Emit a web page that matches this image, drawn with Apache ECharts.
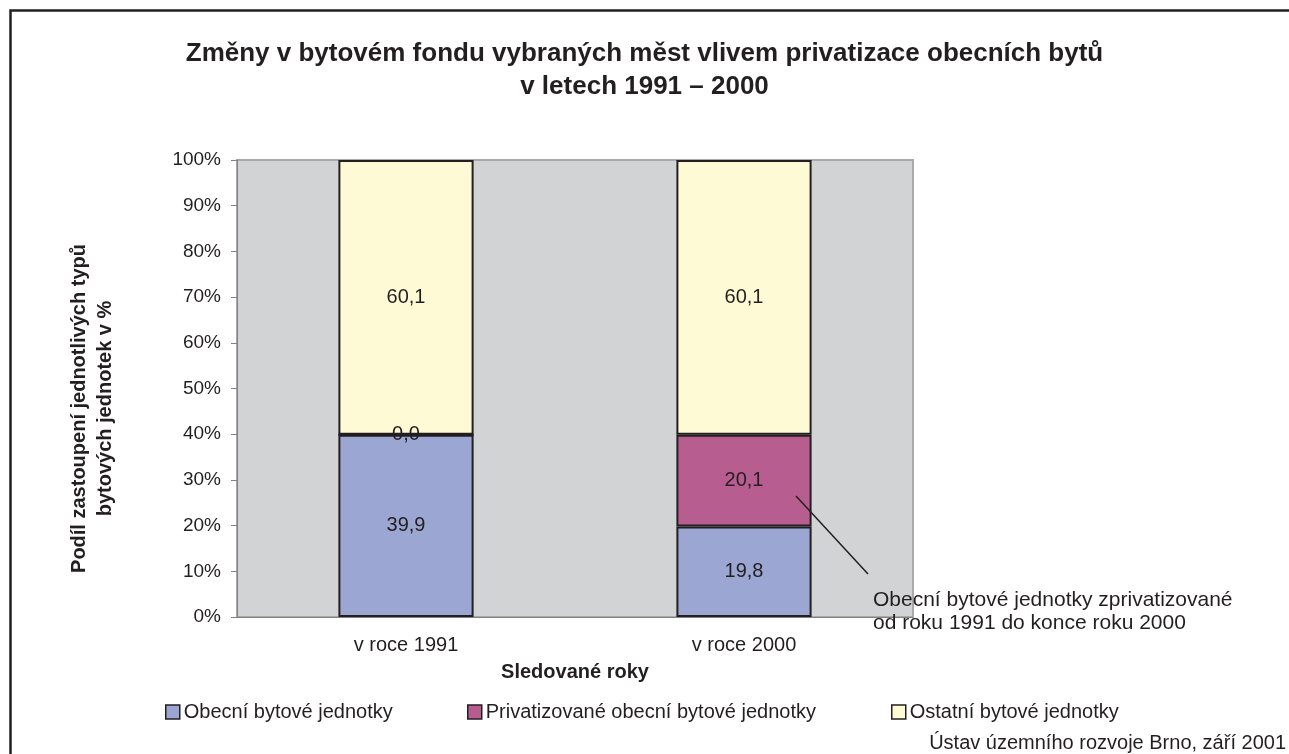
<!DOCTYPE html>
<html>
<head>
<meta charset="utf-8">
<script src="https://cdn.jsdelivr.net/npm/echarts@6/dist/echarts.min.js"></script>
<style>
  html, body { margin: 0; padding: 0; background: #fff; }
  #chart { width: 1289px; height: 754px; }
</style>
</head>
<body>
<div id="chart"></div>
<script>
  // data
  var categories = ['v roce 1991', 'v roce 2000'];
  var seriesNames = ['Obecní bytové jednotky', 'Privatizované obecní bytové jednotky', 'Ostatní bytové jednotky'];
  var obecni = [39.9, 19.8];
  var privatizovane = [0.0, 20.1];
  var ostatni = [60.1, 60.1];
  var yTicks = [0, 10, 20, 30, 40, 50, 60, 70, 80, 90, 100];

  var font = '"Liberation Sans", Arial, sans-serif';
  var ink = '#231F20';

  function fmt (p) {
    return p.value.toFixed(1).replace('.', ',');
  }

  function barSeries (name, data, color) {
    return {
      name: name,
      type: 'bar',
      stack: 'total',
      barWidth: '40%',
      data: data,
      itemStyle: { color: color, borderColor: ink, borderWidth: 2 },
      label: {
        show: true,
        position: 'inside',
        formatter: fmt,
        color: ink,
        fontSize: 20,
        fontFamily: font
      }
    };
  }

  // one legend per item so each sits where the original put it
  function legendItem (name, left) {
    return {
      left: left,
      top: 697,
      itemWidth: 14,
      itemHeight: 14,
      icon: 'rect',
      itemStyle: { borderColor: ink, borderWidth: 1.5 },
      textStyle: { fontSize: 20, color: ink, fontFamily: font, padding: [0, 0, 0, -1] },
      data: [name]
    };
  }

  var myChart = echarts.init(document.getElementById('chart'));
  var option = {
    animation: false,
    textStyle: { fontFamily: font },
    title: {
      text: 'Změny v bytovém fondu vybraných měst vlivem privatizace obecních bytů\nv letech 1991 – 2000',
      left: 'center',
      top: 32,
      textStyle: { fontSize: 26, fontWeight: 'bold', color: ink, lineHeight: 33, fontFamily: font }
    },
    legend: [
      legendItem(seriesNames[0], 160),
      legendItem(seriesNames[1], 462),
      legendItem(seriesNames[2], 886)
    ],
    grid: {
      left: 237,
      right: 376,
      top: 160,
      bottom: 137,
      show: true,
      backgroundColor: '#D1D3D4',
      borderColor: '#A7A9AC',
      borderWidth: 2
    },
    xAxis: {
      type: 'category',
      data: categories,
      name: 'Sledované roky',
      nameLocation: 'middle',
      nameGap: 45,
      nameTextStyle: { fontSize: 20, fontWeight: 'bold', color: ink, fontFamily: font },
      axisLine: { lineStyle: { color: '#808285', width: 1 } },
      axisTick: { length: 6, lineStyle: { color: '#808285' } },
      axisLabel: { fontSize: 20, color: ink, margin: 18, fontFamily: font }
    },
    yAxis: {
      type: 'value',
      min: 0,
      max: 100,
      interval: 10,
      name: 'Podíl zastoupení jednotlivých typů\nbytových jednotek v %',
      nameLocation: 'middle',
      nameGap: 119,
      nameRotate: 90,
      nameTextStyle: { fontSize: 20, fontWeight: 'bold', color: ink, lineHeight: 26, fontFamily: font, padding: [0, 0, 0, -40] },
      axisLine: { show: true, lineStyle: { color: '#808285', width: 1 } },
      axisTick: { show: true, length: 6, lineStyle: { color: '#808285' } },
      splitLine: { show: false },
      axisLabel: {
        fontSize: 19,
        color: ink,
        margin: 16,
        fontFamily: font,
        formatter: function (v) { return yTicks.indexOf(v) >= 0 ? v + '%' : ''; }
      }
    },
    series: [
      barSeries(seriesNames[0], obecni, '#9BA6D2'),
      barSeries(seriesNames[1], privatizovane, '#B85D8F'),
      barSeries(seriesNames[2], ostatni, '#FFFAD6')
    ],
    graphic: [
      {
        type: 'polyline',
        silent: true,
        z: 100,
        shape: { points: [[10.5, 800], [10.5, 10.5], [1300, 10.5]] },
        style: { stroke: ink, lineWidth: 2.5, fill: null }
      },
      {
        type: 'line',
        silent: true,
        z: 100,
        shape: { x1: 796, y1: 496, x2: 868, y2: 574 },
        style: { stroke: ink, lineWidth: 1.5 }
      },
      {
        type: 'text',
        z: 100,
        left: 873,
        top: 589,
        style: {
          text: 'Obecní bytové jednotky zprivatizované\nod roku 1991 do konce roku 2000',
          fontSize: 21,
          lineHeight: 23,
          fill: ink,
          fontFamily: font
        }
      },
      {
        type: 'text',
        z: 100,
        right: 3,
        top: 733,
        style: {
          text: 'Ústav územního rozvoje Brno, září 2001',
          fontSize: 20,
          fill: ink,
          fontFamily: font
        }
      }
    ]
  };
  myChart.setOption(option);
</script>
</body>
</html>
